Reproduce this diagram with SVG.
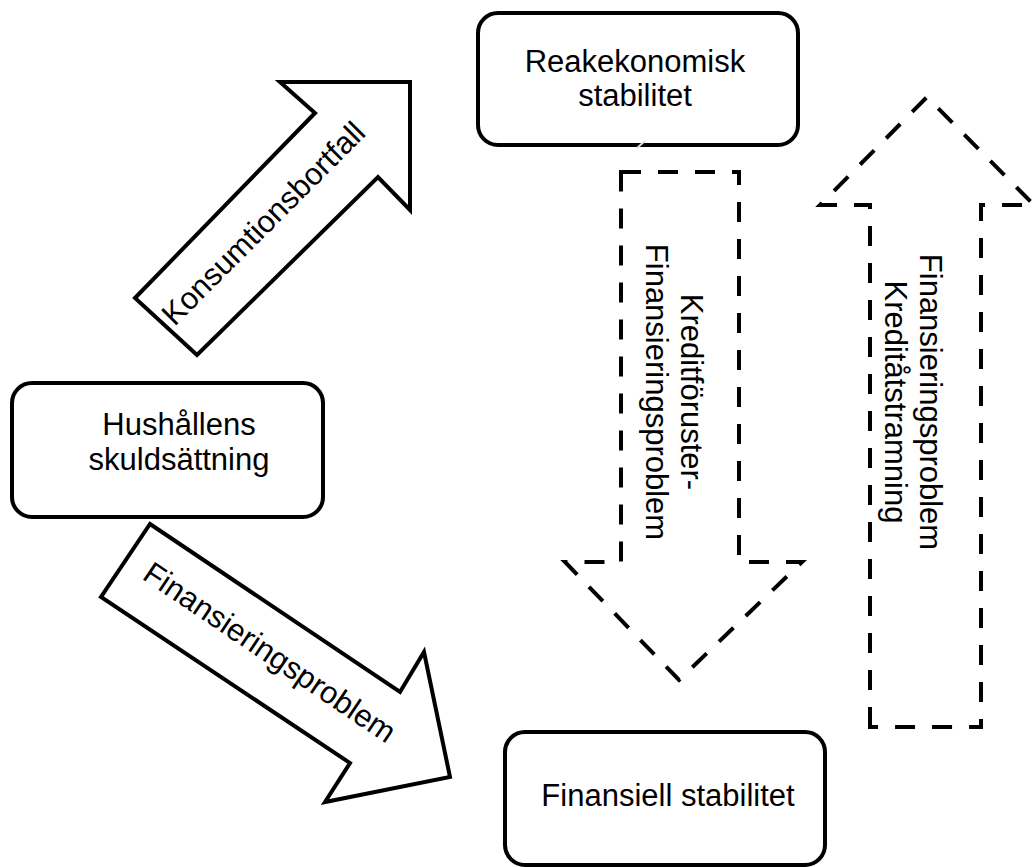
<svg xmlns="http://www.w3.org/2000/svg" width="1035" height="867" viewBox="0 0 1035 867">
<style>
.box{fill:#fff;stroke:#000;stroke-width:4}
.arr{fill:#fff;stroke:#000;stroke-width:4;stroke-linejoin:miter}
.dash{fill:none;stroke:#000;stroke-width:4;stroke-dasharray:20 17}
text{font-family:"Liberation Sans",Arial,sans-serif;font-size:31px;fill:#000;text-anchor:middle}
</style>
<rect width="1035" height="867" fill="#fff"/>
<g id="connectors">
<g id="arrow-konsumtion">
<polygon class="arr" points="280,82 410,82 410,210 378,177 197,355 135,298 315,113"/>
<text transform="translate(263,223) rotate(-45)" y="11">Konsumtionsbortfall</text>
</g>
<g id="arrow-finansiering">
<polygon class="arr" points="150,524 400,692 424,652 450,777 325,802 350,763 101,597"/>
<text transform="translate(270,652) rotate(34)" y="11">Finansieringsproblem</text>
</g>
<g id="arrow-down-dashed">
<path class="dash" d="M621,172 L739,172 L739,562 L802,562 L679,680 L565,562 L621,562 Z"/>
<text transform="translate(681,392) rotate(90)">Kreditföruster-</text>
<text transform="translate(646,392) rotate(90)">Finansieringsproblem</text>
</g>
<g id="arrow-up-dashed">
<path class="dash" d="M870,727 L870,205 L820,205 L927,97 L1034,205 L981,205 L981,727 Z"/>
<text transform="translate(920,402) rotate(90)">Finansieringsproblem</text>
<text transform="translate(885,402) rotate(90)">Kreditåtstramning</text>
</g>
</g>
<g id="node-real">
<rect class="box" x="478" y="13" width="320" height="132" rx="20"/>
<text x="635" y="72">Reakekonomisk</text>
<text x="635" y="106">stabilitet</text>
</g>
<line x1="637" y1="148" x2="645" y2="141" stroke="#ddd" stroke-width="2"/>
<g id="node-hushall">
<rect class="box" x="12" y="383" width="311" height="134" rx="20"/>
<text x="179" y="435">Hushållens</text>
<text x="179" y="470">skuldsättning</text>
</g>
<g id="node-finansiell">
<rect class="box" x="505" y="732" width="320" height="133" rx="20"/>
<text x="668" y="806">Finansiell stabilitet</text>
</g>
</svg>
